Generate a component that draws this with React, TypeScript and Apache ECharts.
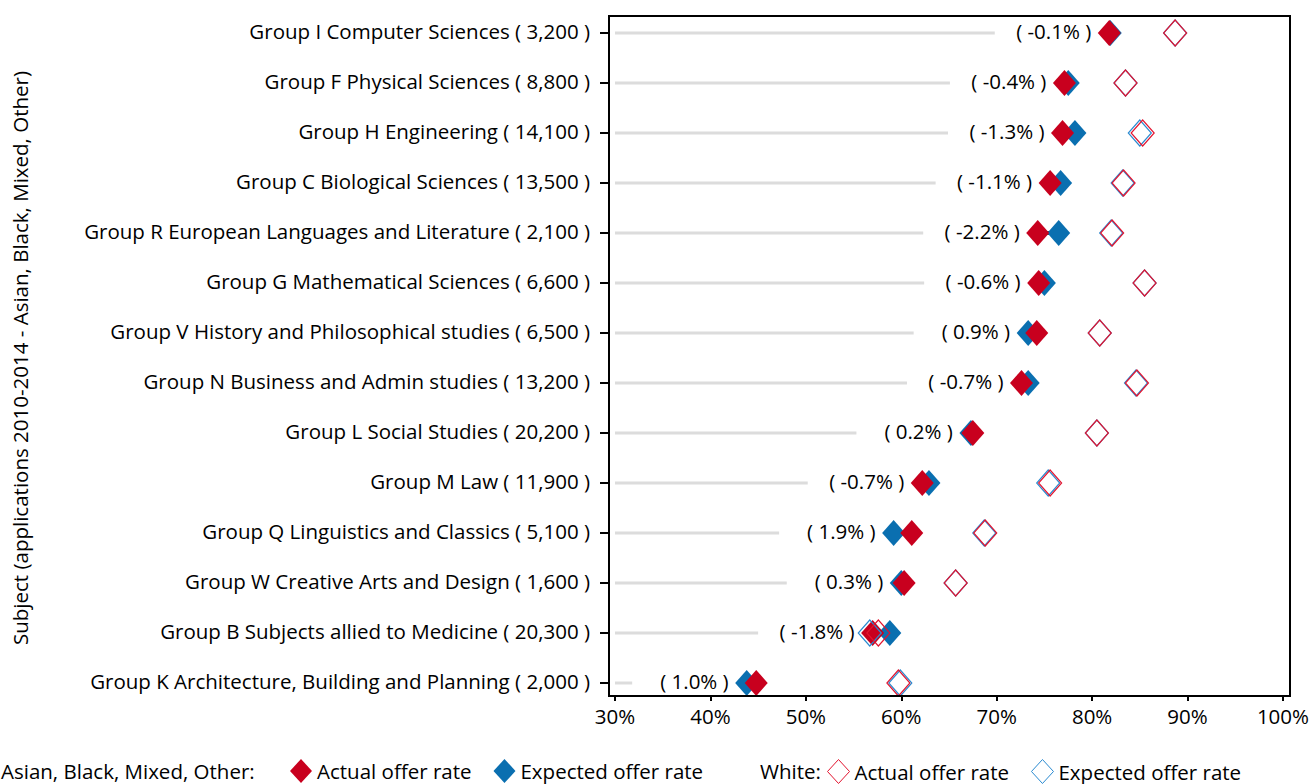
import React, { useEffect, useRef } from "react";
import * as echarts from "echarts";

const subjects = [
  "Group I Computer Sciences",
  "Group F Physical Sciences",
  "Group H Engineering",
  "Group C Biological Sciences",
  "Group R European Languages and Literature",
  "Group G Mathematical Sciences",
  "Group V History and Philosophical studies",
  "Group N Business and Admin studies",
  "Group L Social Studies",
  "Group M Law",
  "Group Q Linguistics and Classics",
  "Group W Creative Arts and Design",
  "Group B Subjects allied to Medicine",
  "Group K Architecture, Building and Planning",
];
const applications = ["3,200", "8,800", "14,100", "13,500", "2,100", "6,600", "6,500", "13,200", "20,200", "11,900", "5,100", "1,600", "20,300", "2,000"];
const actualBAME = [81.8, 77.1, 76.9, 75.6, 74.3, 74.4, 74.2, 72.6, 67.5, 62.2, 61.1, 60.3, 57.0, 44.8];
const expectedBAME = [81.9, 77.5, 78.2, 76.7, 76.5, 75.0, 73.3, 73.3, 67.3, 62.9, 59.2, 60.0, 58.8, 43.8];
const actualWhite = [88.7, 83.5, 85.3, 83.3, 82.1, 85.5, 80.8, 84.7, 80.5, 75.6, 68.8, 65.7, 57.6, 59.7];
const expectedWhite = [88.7, 83.5, 85.0, 83.2, 82.0, 85.5, 80.8, 84.6, 80.5, 75.4, 68.7, 65.7, 56.7, 59.9];
const gapLabels = [-0.1, -0.4, -1.3, -1.1, -2.2, -0.6, 0.9, -0.7, 0.2, -0.7, 1.9, 0.3, -1.8, 1.0];
const xMin = 30;
const xMax = 100;
const xStep = 10;

const FONT = "'Open Sans', 'Noto Sans', sans-serif";
const FS = 20.5;
const RED = "#c8001e";
const BLUE = "#0a6fb0";
const RED_LINE = "#e3142f";
const BLUE_LINE = "#2a8ad0";

const categoryLabels = subjects.map((s, i) => `${s} ( ${applications[i]} )`);

const S_ACT = "Asian, Black, Mixed, Other: Actual offer rate";
const S_EXP = "Asian, Black, Mixed, Other: Expected offer rate";
const W_ACT = "White: Actual offer rate";
const W_EXP = "White: Expected offer rate";

function buildOption() {
  const connectorData = subjects.map((_, i) => [actualBAME[i], expectedBAME[i], i, gapLabels[i]]);
  const legendText = {
    fontSize: FS,
    color: "#000",
    fontFamily: FONT,
  };
  return {
    animation: false,
    textStyle: { fontFamily: FONT },
    grid: { left: 615, top: 8, width: 668, height: 700, containLabel: false },
    xAxis: {
      type: "value",
      min: xMin,
      max: xMax,
      interval: xStep,
      offset: -12,
      axisLine: { show: false },
      axisTick: { show: true, length: 5, lineStyle: { color: "#000", width: 2 } },
      splitLine: { show: false },
      axisLabel: { formatter: "{value}%", color: "#000", fontSize: FS, margin: 9, fontFamily: FONT },
    },
    yAxis: {
      type: "category",
      inverse: true,
      data: categoryLabels,
      offset: 6,
      axisLine: { show: false },
      axisTick: { show: true, alignWithLabel: true, length: 9, lineStyle: { color: "#000", width: 2 } },
      axisLabel: {
        color: "#000",
        fontSize: FS,
        margin: 19,
        fontFamily: FONT,
        interval: 0,
        verticalAlign: "bottom",
        lineHeight: 5,
      },
      splitLine: { show: false },
      name: "Subject (applications 2010-2014 - Asian, Black, Mixed, Other)",
      nameLocation: "middle",
      nameGap: 579,
      nameRotate: 90,
      nameTextStyle: { color: "#000", fontSize: FS, fontFamily: FONT },
    },
    legend: [
      {
        left: 290,
        top: 759,
        padding: 0,
        itemWidth: 22,
        itemHeight: 24,
        itemGap: 22,
        selectedMode: false,
        icon: "diamond",
        formatter: (n: string) => n.split(": ")[1],
        textStyle: legendText,
        data: [
          { name: S_ACT, itemStyle: { color: RED } },
          { name: S_EXP, itemStyle: { color: BLUE } },
        ],
      },
      {
        left: 827,
        top: 759,
        padding: 0,
        itemWidth: 22,
        itemHeight: 24,
        itemGap: 22,
        selectedMode: false,
        icon: "diamond",
        formatter: (n: string) => n.split(": ")[1],
        textStyle: legendText,
        data: [
          { name: W_ACT, itemStyle: { color: "rgba(0,0,0,0)", borderColor: RED_LINE, borderWidth: 1 } },
          { name: W_EXP, itemStyle: { color: "rgba(0,0,0,0)", borderColor: BLUE_LINE, borderWidth: 1 } },
        ],
      },
    ],
    graphic: [
      {
        type: "rect",
        shape: { x: 609, y: 16, width: 681, height: 680 },
        style: { fill: "none", stroke: "#000", lineWidth: 2 },
        z: 50,
        silent: true,
      },
      {
        type: "text",
        x: 1,
        y: 771,
        style: { text: "Asian, Black, Mixed, Other:", fontSize: FS, fontFamily: FONT, fill: "#000", verticalAlign: "middle" },
      },
      {
        type: "text",
        x: 760,
        y: 771,
        style: { text: "White:", fontSize: FS, fontFamily: FONT, fill: "#000", verticalAlign: "middle" },
      },
    ],
    series: [
      {
        type: "custom",
        name: "connectors",
        data: connectorData,
        encode: { x: [0, 1], y: 2 },
        z: 1,
        silent: true,
        renderItem: (params: any, api: any) => {
          const idx = api.value(2);
          const va = api.value(0);
          const ve = api.value(1);
          const a = api.coord([va, idx]);
          const e = api.coord([ve, idx]);
          const start = api.coord([xMin, idx]);
          const grayEnd = api.coord([Math.min(va, ve) - 12, idx]);
          const minX = Math.min(a[0], e[0]);
          const g = api.value(3);
          return {
            type: "group",
            children: [
              {
                type: "line",
                shape: { x1: start[0], y1: start[1], x2: grayEnd[0], y2: grayEnd[1] },
                style: { stroke: "#dcdcdc", lineWidth: 3 },
              },
              {
                type: "line",
                shape: { x1: a[0], y1: a[1], x2: e[0], y2: e[1] },
                style: { stroke: "#000", lineWidth: 3.5 },
              },
              {
                type: "text",
                x: minX - 18,
                y: a[1] - 2,
                style: {
                  text: `( ${g.toFixed(1)}% )`,
                  align: "right",
                  verticalAlign: "middle",
                  fontSize: FS,
                  fontFamily: FONT,
                  fill: "#000",
                },
              },
            ],
          };
        },
      },
      {
        type: "scatter",
        name: S_EXP,
        symbol: "diamond",
        symbolSize: [23, 26],
        z: 2,
        itemStyle: { color: BLUE, opacity: 1 },
        data: expectedBAME.map((v, i) => [v, i]),
      },
      {
        type: "scatter",
        name: S_ACT,
        symbol: "diamond",
        symbolSize: [23, 26],
        z: 3,
        itemStyle: { color: RED, opacity: 1 },
        data: actualBAME.map((v, i) => [v, i]),
      },
      {
        type: "scatter",
        name: W_EXP,
        symbol: "diamond",
        symbolSize: [23, 26],
        z: 4,
        itemStyle: { color: "rgba(0,0,0,0)", borderColor: BLUE_LINE, borderWidth: 1.2, opacity: 1 },
        data: expectedWhite.map((v, i) => [v, i]),
      },
      {
        type: "scatter",
        name: W_ACT,
        symbol: "diamond",
        symbolSize: [23, 26],
        z: 5,
        itemStyle: { color: "rgba(0,0,0,0)", borderColor: RED_LINE, borderWidth: 1.2, opacity: 1 },
        data: actualWhite.map((v, i) => [v, i]),
      },
    ],
  };
}

export default function App() {
  const ref = useRef<HTMLDivElement>(null);
  useEffect(() => {
    if (!ref.current) return;
    const chart = echarts.init(ref.current, undefined, { renderer: "svg" });
    chart.setOption(buildOption() as any);
    return () => chart.dispose();
  }, []);
  return (
    <div
      ref={ref}
      style={{ position: "fixed", left: 0, top: 0, width: 1312, height: 784, background: "#fff" }}
    />
  );
}
